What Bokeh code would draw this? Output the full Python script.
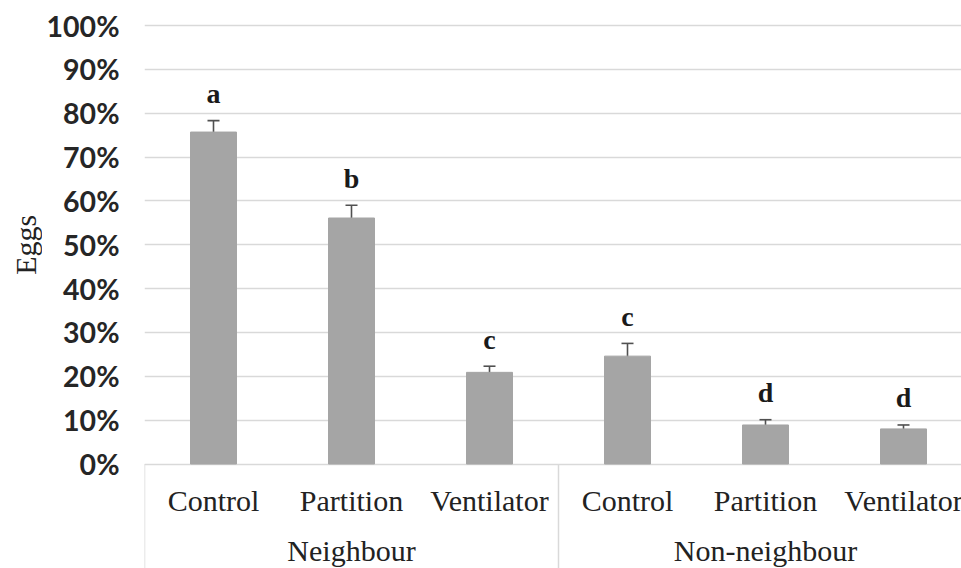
import math
from bokeh.plotting import figure
from bokeh.layouts import row
from bokeh.models import (ColumnDataSource, Range1d, FixedTicker, PrintfTickFormatter,
                          Whisker, TeeHead)
from bokeh.core.properties import value
from bokeh.embed import file_html
from bokeh.resources import INLINE

# ---- data ----
groups = ["Neighbour", "Non-neighbour"]
treatments = ["Control", "Partition", "Ventilator", "Control", "Partition", "Ventilator"]
group_of = ["Neighbour", "Neighbour", "Neighbour", "Non-neighbour", "Non-neighbour", "Non-neighbour"]
eggs_pct = [75.7, 56.1, 20.9, 24.6, 8.9, 8.0]
err_pct = [2.6, 2.9, 1.4, 2.9, 1.2, 0.9]
letters = ["a", "b", "c", "c", "d", "d"]
y_ticks = [0, 10, 20, 30, 40, 50, 60, 70, 80, 90, 100]
y_title = "Eggs"

# ---- layout constants (screen geometry) ----
PX_PER_UNIT = 4.385          # pixels per percentage point
CAT_PX = 138.0               # pixels per category
TXT_FIX = 11                 # baseline correction for text glyphs (px)
H = 568
TITLE_W = 42
W = 961 - TITLE_W
LEFT = 144 - TITLE_W
frame_w = W - LEFT
y_top = 100 + 25 / PX_PER_UNIT
y_bot = y_top - H / PX_PER_UNIT

xs = [i + 0.5 for i in range(len(treatments))]
upper = [m + e for m, e in zip(eggs_pct, err_pct)]
lower = [m - e for m, e in zip(eggs_pct, err_pct)]
letter_y = [u + (16 + TXT_FIX) / PX_PER_UNIT for u in upper]
cat_y = (-47.5 + TXT_FIX) / PX_PER_UNIT

src = ColumnDataSource(dict(x=xs, top=eggs_pct, upper=upper, lower=lower,
                            letter=letters, ly=letter_y, cat=treatments,
                            cy=[cat_y] * len(xs)))

yr = Range1d(y_bot, y_top)
p = figure(width=W, height=H, output_backend="svg", toolbar_location=None,
           x_range=Range1d(0, frame_w / CAT_PX), y_range=yr,
           min_border_left=LEFT, min_border_right=0, min_border_top=0, min_border_bottom=0)
p.outline_line_color = None
p.background_fill_color = "white"
p.border_fill_color = "white"

p.xaxis.visible = False
p.xgrid.visible = False

ya = p.yaxis[0]
ya.ticker = FixedTicker(ticks=y_ticks)
ya.formatter = PrintfTickFormatter(format="%d%%")
ya.axis_line_color = None
ya.major_tick_line_color = None
ya.minor_tick_line_color = None
ya.major_tick_out = 0
ya.major_label_standoff = 25
ya.major_label_text_font = "Lato"
ya.major_label_text_font_style = "bold"
ya.major_label_text_font_size = "28.5px"
ya.major_label_text_color = "#262626"

p.ygrid.ticker = FixedTicker(ticks=y_ticks)
p.ygrid.grid_line_color = "#d9d9d9"
p.ygrid.grid_line_width = 1.5

# group dividers below the axis
n_per_group = [group_of.count(g) for g in groups]
bounds = [0]
for n in n_per_group:
    bounds.append(bounds[-1] + n)
p.segment(x0=bounds, y0=[0] * len(bounds), x1=bounds, y1=[y_bot] * len(bounds),
          line_color="#d9d9d9", line_width=1.5)

p.vbar(x="x", top="top", bottom=0, width=46 / CAT_PX, source=src,
       fill_color="#a5a5a5", line_color="#a5a5a5")

wh = Whisker(source=src, base="x", upper="upper", lower="lower",
             line_color="#505050", line_width=1.6,
             upper_head=TeeHead(size=12, line_color="#505050", line_width=1.6),
             lower_head=TeeHead(size=12, line_color="#505050", line_width=1.6))
p.add_layout(wh)

p.text(x="x", y="ly", text="letter", source=src, text_align="center",
       text_baseline="alphabetic", text_font=value("Liberation Serif"),
       text_font_style="bold", text_font_size="28px", text_color="#1a1a1a")

p.text(x="x", y="cy", text="cat", source=src, text_align="center",
       text_baseline="alphabetic", text_font=value("Liberation Serif"),
       text_font_size="30px", text_color="#222222")

gx = [(bounds[i] + bounds[i + 1]) / 2 for i in range(len(groups))]
grp_y = (-97.5 + TXT_FIX) / PX_PER_UNIT
p.text(x=gx, y=[grp_y] * len(gx), text=groups, text_align="center",
       text_baseline="alphabetic", text_font=value("Liberation Serif"),
       text_font_size="30px", text_color="#222222")

# y-axis title panel
t = figure(width=TITLE_W, height=H, output_backend="svg", toolbar_location=None,
           x_range=Range1d(0, TITLE_W), y_range=yr,
           min_border_left=0, min_border_right=0, min_border_top=0, min_border_bottom=0)
t.axis.visible = False
t.grid.visible = False
t.outline_line_color = None
t.background_fill_color = "white"
t.border_fill_color = "white"
t.text(x=[36 - TXT_FIX], y=[50], text=[y_title], angle=math.pi / 2,
       text_align="center", text_baseline="alphabetic",
       text_font=value("Liberation Serif"), text_font_size="30px",
       text_color="#222222")

layout = row(t, p, spacing=0)
open("out.html", "w").write(file_html(layout, INLINE))
